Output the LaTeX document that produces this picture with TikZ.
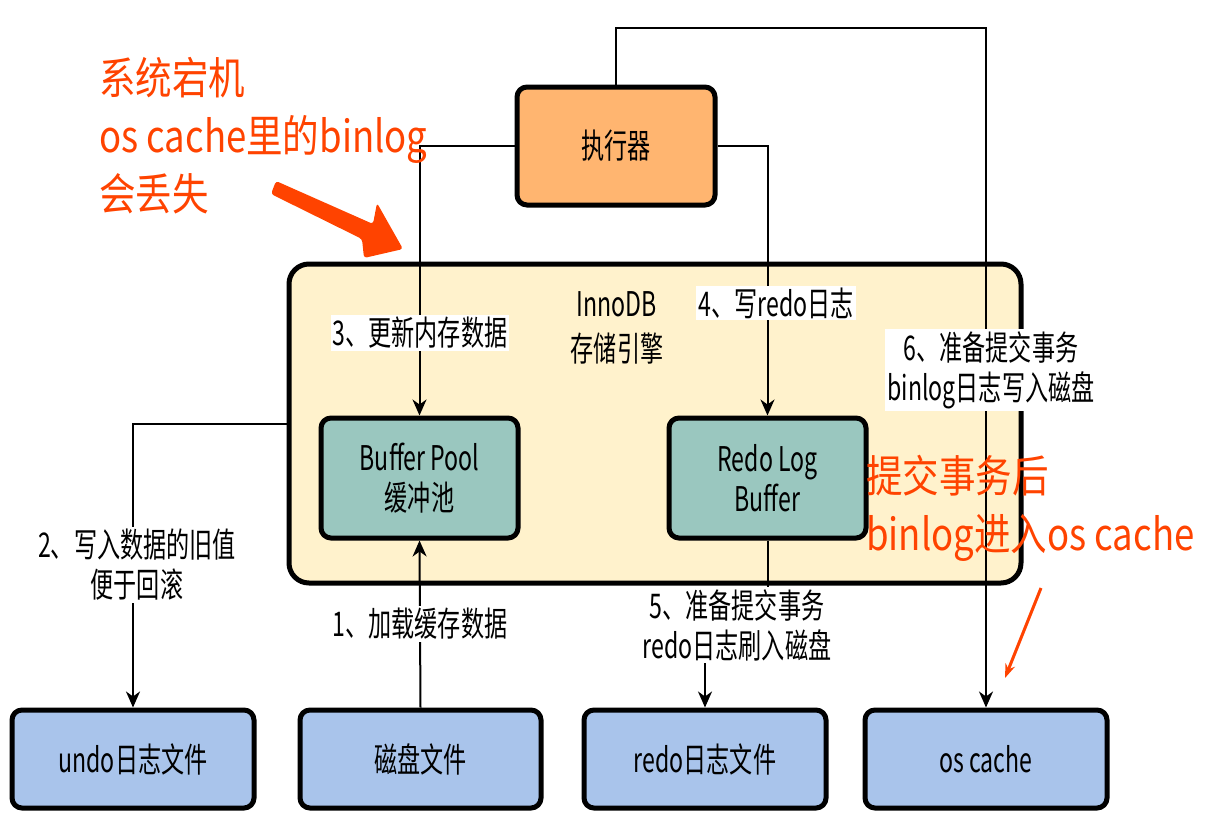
\documentclass[tikz,border=0pt]{standalone}
\usepackage{fontspec}
\setmainfont[FakeStretch=0.68]{Noto Sans CJK SC}
\newfontfamily\notefont[FakeStretch=0.83]{Noto Sans CJK SC}
\usetikzlibrary{arrows.meta}

\definecolor{execorange}{HTML}{FFB570}
\definecolor{enginecream}{HTML}{FFF2CC}
\definecolor{bufteal}{HTML}{9AC7BF}
\definecolor{fileblue}{HTML}{A9C4EB}
\definecolor{notered}{HTML}{FF4300}

\tikzset{
  box/.style={draw, line width=5pt, rounded corners=10pt, inner sep=0pt,
    align=center, font=\fontsize{34}{40}\selectfont},
  flow/.style={line width=2pt, -{Stealth[length=16pt,width=14pt,inset=5pt]}},
  steplabel/.style={fill=white, inner sep=2pt, align=center,
    font=\fontsize{34}{40}\selectfont},
  note/.style={text=notered, align=left, inner sep=0pt,
    font=\notefont\fontsize{44}{58}\selectfont}
}

\begin{document}
\begin{tikzpicture}[x=1pt, y=-1pt]
    \useasboundingbox (0,0) rectangle (1211,814);

    % storage engine
    \node[box, fill=enginecream, rounded corners=20pt,
      minimum width=732pt, minimum height=319pt] (innodb) at (655,423.5) {};
    \node[align=center, inner sep=0pt, font=\fontsize{34}{45}\selectfont]
      (innolabel) at (617,328) {InnoDB\\存储引擎};

    \node[box, fill=execorange, minimum width=198pt, minimum height=118pt]
      (exec) at (616,146) {执行器};
    \node[box, fill=bufteal, minimum width=197pt, minimum height=120pt]
      (bufpool) at (419.5,478) {Buffer Pool\\缓冲池};
    \node[box, fill=bufteal, minimum width=197pt, minimum height=120pt]
      (redobuf) at (767.5,478) {Redo Log\\Buffer};

    % files
    \node[box, fill=fileblue, minimum width=242pt, minimum height=98pt]
      (undofile) at (133,759) {undo日志文件};
    \node[box, fill=fileblue, minimum width=241pt, minimum height=98pt]
      (diskfile) at (420.5,759) {磁盘文件};
    \node[box, fill=fileblue, minimum width=242pt, minimum height=98pt]
      (redofile) at (705,759) {redo日志文件};
    \node[box, fill=fileblue, minimum width=242pt, minimum height=98pt]
      (oscache) at (986,759) {os cache};

    \coordinate (topturn) at (986,28);
    \coordinate (redoturn) at (767.5,625);

    % connectors
    \draw[flow] (diskfile.north) -- node[steplabel, pos=0.5] {1、加载缓存数据} (bufpool.south);
    \draw[flow] (innodb.west) -| (undofile.north);
    \node[steplabel] (lbltwo) at (137,565) {2、写入数据的旧值\\便于回滚};
    \draw[flow] (exec.west) -| (bufpool.north);
    \node[steplabel] (lblthree) at (420,333) {3、更新内存数据};
    \draw[flow] (exec.east) -| (redobuf.north);
    \node[steplabel] (lblfour) at (776,303) {4、写redo日志};
    \draw[flow] (redobuf.south) -- (redoturn) -| (redofile.north);
    \node[steplabel] (lblfive) at (737,625) {5、准备提交事务\\redo日志刷入磁盘};
    \draw[flow] (exec.north) |- (topturn) -- (oscache.north);
    \node[steplabel] (lblsix) at (991,370) {6、准备提交事务\\binlog日志写入磁盘};

    % notes
    \node[note, anchor=north west] (crashnote) at (99,57)
      {系统宕机\\os cache里的binlog\\会丢失};
    \fill[notered, rounded corners=3pt]
      (276,181) -- (373,224) -- (377,203) -- (403,249) -- (364,258)
      -- (362,239) -- (271,194) -- cycle;
    \node[note, anchor=north west] (commitnote) at (866,455)
      {提交事务后\\binlog进入os cache};
    \draw[notered, line width=3pt, -{Stealth[length=14pt,width=10pt]}]
      (1041,588) -- (1005,678);
\end{tikzpicture}
\end{document}
